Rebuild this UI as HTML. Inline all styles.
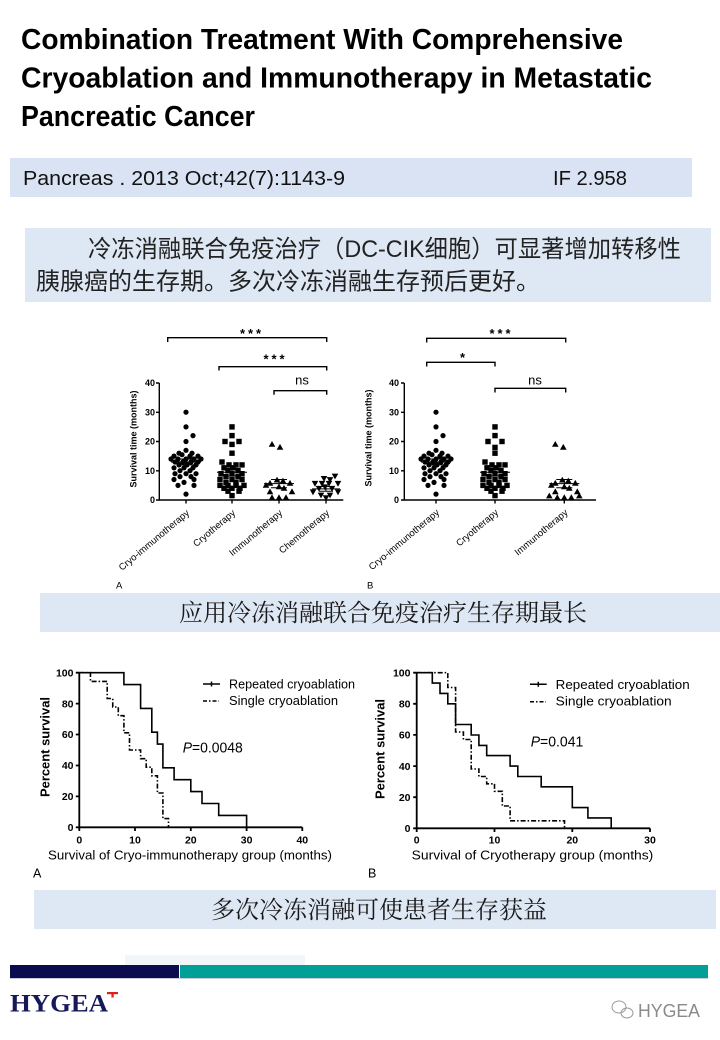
<!DOCTYPE html>
<html><head><meta charset="utf-8">
<style>
html,body{margin:0;padding:0;background:#fff;width:720px;height:1040px;overflow:hidden}
svg{display:block}
.s{font-family:"Liberation Sans",Arial,sans-serif}
</style></head>
<body>
<svg width="720" height="1040" viewBox="0 0 720 1040">
<rect x="0" y="0" width="720" height="1040" fill="#fff"/>

<!-- Title -->
<g class="s" font-weight="bold" font-size="29" fill="#000">
<text x="21" y="49" textLength="602" lengthAdjust="spacingAndGlyphs">Combination Treatment With Comprehensive</text>
<text x="21" y="87.5" textLength="631" lengthAdjust="spacingAndGlyphs">Cryoablation and Immunotherapy in Metastatic</text>
<text x="21" y="126" textLength="234" lengthAdjust="spacingAndGlyphs">Pancreatic Cancer</text>
</g>

<!-- Citation box -->
<rect x="10" y="158" width="682" height="39" fill="#dae3f3"/>
<g class="s" font-size="20" fill="#111">
<text x="23" y="185" textLength="322" lengthAdjust="spacingAndGlyphs">Pancreas . 2013 Oct;42(7):1143-9</text>
<text x="553" y="185" textLength="74" lengthAdjust="spacingAndGlyphs">IF 2.958</text>
</g>

<!-- Chinese box 1 -->
<rect x="25" y="228" width="686" height="74" fill="#dee8f4"/>
<g font-family="'Liberation Sans','Noto Sans CJK SC',sans-serif" font-size="24" fill="#222">
<text x="88" y="257" textLength="593" lengthAdjust="spacingAndGlyphs">冷冻消融联合免疫治疗（DC-CIK细胞）可显著增加转移性</text>
<text x="36" y="289.5" textLength="504" lengthAdjust="spacingAndGlyphs">胰腺癌的生存期。多次冷冻消融生存预后更好。</text>
</g>

<!-- ================= Scatter A ================= -->
<g class="s" fill="#000">
<!-- axes -->
<g stroke="#000" stroke-width="1.4" fill="none">
<path d="M159.3,383 V500 H343.3"/>
<path d="M156,383 H159.3 M156,412.3 H159.3 M156,441.5 H159.3 M156,470.8 H159.3 M156,500 H159.3"/>
<path d="M186,500 V503.5 M232,500 V503.5 M279,500 V503.5 M326,500 V503.5"/>
<!-- brackets -->
<path d="M167.7,342 V337.7 H326.7 V342"/>
<path d="M219,370.5 V366.7 H326.7 V370.5"/>
<path d="M274,394.7 V390.7 H326.7 V394.7"/>
</g>
<g font-size="9" font-weight="bold" text-anchor="end">
<text x="155" y="386">40</text><text x="155" y="415.3">30</text><text x="155" y="444.5">20</text><text x="155" y="473.8">10</text><text x="155" y="503">0</text>
</g>
<text transform="translate(136.5,439) rotate(-90)" text-anchor="middle" font-size="9" font-weight="bold">Survival time (months)</text>
<g font-size="13" font-weight="bold" text-anchor="middle">
<text x="250.5" y="338" textLength="21" lengthAdjust="spacing">***</text>
<text x="274" y="363.5" textLength="21" lengthAdjust="spacing">***</text>
</g>
<text x="302" y="384.5" font-size="13" text-anchor="middle">ns</text>
<g font-size="9.5" text-anchor="end">
<text transform="translate(190,514) rotate(-40)">Cryo-immunotherapy</text>
<text transform="translate(236,514) rotate(-40)">Cryotherapy</text>
<text transform="translate(283,514) rotate(-40)">Immunotherapy</text>
<text transform="translate(330,514) rotate(-40)">Chemotherapy</text>
</g>
<text x="116" y="588.5" font-size="9.5">A</text>

<!-- group1 circles -->
<g transform="translate(186,500)">
<circle cx="0" cy="-87.8" r="2.6"/><circle cx="0" cy="-73.1" r="2.6"/><circle cx="7" cy="-64.4" r="2.6"/><circle cx="0" cy="-58.5" r="2.6"/><circle cx="0" cy="-49.7" r="2.6"/><circle cx="-7" cy="-46.8" r="2.6"/><circle cx="6" cy="-46.8" r="2.6"/><circle cx="-12" cy="-43.9" r="2.6"/><circle cx="-4" cy="-45.3" r="2.6"/><circle cx="4" cy="-43.9" r="2.6"/><circle cx="12" cy="-43.9" r="2.6"/><circle cx="-15" cy="-41" r="2.6"/><circle cx="-8" cy="-41" r="2.6"/><circle cx="0" cy="-41" r="2.6"/><circle cx="8" cy="-41" r="2.6"/><circle cx="15" cy="-41" r="2.6"/><circle cx="-11" cy="-38" r="2.6"/><circle cx="-3" cy="-38" r="2.6"/><circle cx="5" cy="-38" r="2.6"/><circle cx="12" cy="-38" r="2.6"/><circle cx="-7" cy="-35.1" r="2.6"/><circle cx="1" cy="-35.1" r="2.6"/><circle cx="10" cy="-35.1" r="2.6"/><circle cx="-12" cy="-32.2" r="2.6"/><circle cx="-2" cy="-32.2" r="2.6"/><circle cx="7" cy="-32.2" r="2.6"/><circle cx="-6" cy="-29.3" r="2.6"/><circle cx="4" cy="-29.3" r="2.6"/><circle cx="-11" cy="-26.3" r="2.6"/><circle cx="0" cy="-26.3" r="2.6"/><circle cx="10" cy="-26.3" r="2.6"/><circle cx="-6" cy="-23.4" r="2.6"/><circle cx="5" cy="-23.4" r="2.6"/><circle cx="-12" cy="-20.5" r="2.6"/><circle cx="8" cy="-20.5" r="2.6"/><circle cx="-2" cy="-17.6" r="2.6"/><circle cx="-8" cy="-14.6" r="2.6"/><circle cx="8" cy="-14.6" r="2.6"/><circle cx="0" cy="-5.9" r="2.6"/>
<path d="M-15,-38 H15 M-8,-35.1 H8 M-8,-41 H8 M0,-35.1 V-41" stroke="#000" stroke-width="1" fill="none"/>
</g>
<!-- group2 squares -->
<g transform="translate(232,500)">
<rect x="-2.7" y="-75.8" width="5.4" height="5.4"/><rect x="-2.7" y="-67.1" width="5.4" height="5.4"/><rect x="-9.7" y="-61.2" width="5.4" height="5.4"/><rect x="4.3" y="-61.2" width="5.4" height="5.4"/><rect x="-2.7" y="-58.3" width="5.4" height="5.4"/><rect x="-2.7" y="-49.5" width="5.4" height="5.4"/><rect x="-12.7" y="-40.7" width="5.4" height="5.4"/><rect x="-5.7" y="-37.8" width="5.4" height="5.4"/><rect x="1.3" y="-37.8" width="5.4" height="5.4"/><rect x="7.3" y="-37.8" width="5.4" height="5.4"/><rect x="-10.7" y="-34.9" width="5.4" height="5.4"/><rect x="-1.7" y="-34.9" width="5.4" height="5.4"/><rect x="-6.7" y="-32" width="5.4" height="5.4"/><rect x="3.3" y="-32" width="5.4" height="5.4"/><rect x="-13.7" y="-29" width="5.4" height="5.4"/><rect x="-2.7" y="-29" width="5.4" height="5.4"/><rect x="7.3" y="-29" width="5.4" height="5.4"/><rect x="-8.7" y="-26.1" width="5.4" height="5.4"/><rect x="3.3" y="-26.1" width="5.4" height="5.4"/><rect x="-14.7" y="-23.2" width="5.4" height="5.4"/><rect x="-2.7" y="-23.2" width="5.4" height="5.4"/><rect x="7.3" y="-23.2" width="5.4" height="5.4"/><rect x="-8.7" y="-20.3" width="5.4" height="5.4"/><rect x="1.3" y="-20.3" width="5.4" height="5.4"/><rect x="-14.7" y="-17.3" width="5.4" height="5.4"/><rect x="-6.7" y="-17.3" width="5.4" height="5.4"/><rect x="1.3" y="-17.3" width="5.4" height="5.4"/><rect x="9.3" y="-17.3" width="5.4" height="5.4"/><rect x="-10.7" y="-14.4" width="5.4" height="5.4"/><rect x="-2.7" y="-14.4" width="5.4" height="5.4"/><rect x="5.3" y="-14.4" width="5.4" height="5.4"/><rect x="-6.7" y="-11.5" width="5.4" height="5.4"/><rect x="4.3" y="-11.5" width="5.4" height="5.4"/><rect x="-2.7" y="-7.1" width="5.4" height="5.4"/>
<path d="M-15,-27.8 H15 M-8,-24 H8 M-8,-31.6 H8 M0,-24 V-31.6" stroke="#000" stroke-width="1" fill="none"/>
</g>
<!-- group3 triangles -->
<g transform="translate(279,500)">
<path transform="translate(-7,-55.6)" d="M0,-3.4L3.3,2.4L-3.3,2.4Z"/><path transform="translate(1,-52.7)" d="M0,-3.4L3.3,2.4L-3.3,2.4Z"/><path transform="translate(-9,-16.7)" d="M0,-3.4L3.3,2.4L-3.3,2.4Z"/><path transform="translate(-2,-19.9)" d="M0,-3.4L3.3,2.4L-3.3,2.4Z"/><path transform="translate(4,-19)" d="M0,-3.4L3.3,2.4L-3.3,2.4Z"/><path transform="translate(11,-16.7)" d="M0,-3.4L3.3,2.4L-3.3,2.4Z"/><path transform="translate(-13,-14.6)" d="M0,-3.4L3.3,2.4L-3.3,2.4Z"/><path transform="translate(0,-13.2)" d="M0,-3.4L3.3,2.4L-3.3,2.4Z"/><path transform="translate(-9,-8.2)" d="M0,-3.4L3.3,2.4L-3.3,2.4Z"/><path transform="translate(13,-8.2)" d="M0,-3.4L3.3,2.4L-3.3,2.4Z"/><path transform="translate(-7,-2.3)" d="M0,-3.4L3.3,2.4L-3.3,2.4Z"/><path transform="translate(0,-2.3)" d="M0,-3.4L3.3,2.4L-3.3,2.4Z"/><path transform="translate(7,-2.3)" d="M0,-3.4L3.3,2.4L-3.3,2.4Z"/><path transform="translate(5,-11.7)" d="M0,-3.4L3.3,2.4L-3.3,2.4Z"/>
<path d="M-15,-16.4 H15 M-8,-12.3 H8 M-8,-20.5 H8 M0,-12.3 V-20.5" stroke="#000" stroke-width="1" fill="none"/>
</g>
<!-- group4 inverted triangles -->
<g transform="translate(326,500)">
<path transform="translate(9,-24)" d="M-3.3,-2.4L3.3,-2.4L0,3.4Z"/><path transform="translate(-2,-21.6)" d="M-3.3,-2.4L3.3,-2.4L0,3.4Z"/><path transform="translate(4,-20.5)" d="M-3.3,-2.4L3.3,-2.4L0,3.4Z"/><path transform="translate(-11,-16.7)" d="M-3.3,-2.4L3.3,-2.4L0,3.4Z"/><path transform="translate(-4,-16.7)" d="M-3.3,-2.4L3.3,-2.4L0,3.4Z"/><path transform="translate(3,-16.7)" d="M-3.3,-2.4L3.3,-2.4L0,3.4Z"/><path transform="translate(12,-16.7)" d="M-3.3,-2.4L3.3,-2.4L0,3.4Z"/><path transform="translate(-7,-11.7)" d="M-3.3,-2.4L3.3,-2.4L0,3.4Z"/><path transform="translate(6,-11.7)" d="M-3.3,-2.4L3.3,-2.4L0,3.4Z"/><path transform="translate(-13,-8.2)" d="M-3.3,-2.4L3.3,-2.4L0,3.4Z"/><path transform="translate(12,-8.2)" d="M-3.3,-2.4L3.3,-2.4L0,3.4Z"/><path transform="translate(-5,-5)" d="M-3.3,-2.4L3.3,-2.4L0,3.4Z"/><path transform="translate(4,-5)" d="M-3.3,-2.4L3.3,-2.4L0,3.4Z"/><path transform="translate(0,-2.3)" d="M-3.3,-2.4L3.3,-2.4L0,3.4Z"/><path transform="translate(-1,-13.2)" d="M-3.3,-2.4L3.3,-2.4L0,3.4Z"/>
<path d="M-14,-11.1 H14 M-7,-8.8 H7 M-7,-13.5 H7 M0,-8.8 V-13.5" stroke="#000" stroke-width="1" fill="none"/>
</g>
</g>

<!-- ================= Scatter B ================= -->
<g class="s" fill="#000">
<g stroke="#000" stroke-width="1.4" fill="none">
<path d="M404.3,383 V500 H596"/>
<path d="M401,383 H404.3 M401,412.3 H404.3 M401,441.5 H404.3 M401,470.8 H404.3 M401,500 H404.3"/>
<path d="M436,500 V503.5 M495,500 V503.5 M564.3,500 V503.5"/>
<path d="M426.7,342.5 V338.3 H565.7 V342.5"/>
<path d="M426.7,366.5 V362.3 H495 V366.5"/>
<path d="M495,392.5 V388.3 H565.7 V392.5"/>
</g>
<g font-size="9" font-weight="bold" text-anchor="end">
<text x="399" y="386">40</text><text x="399" y="415.3">30</text><text x="399" y="444.5">20</text><text x="399" y="473.8">10</text><text x="399" y="503">0</text>
</g>
<text transform="translate(371.5,438) rotate(-90)" text-anchor="middle" font-size="9" font-weight="bold">Survival time (months)</text>
<g font-size="13" font-weight="bold" text-anchor="middle">
<text x="500" y="338" textLength="21" lengthAdjust="spacing">***</text>
<text x="462.5" y="362">*</text>
</g>
<text x="535" y="384.5" font-size="13" text-anchor="middle">ns</text>
<g font-size="9.5" text-anchor="end">
<text transform="translate(440,513.5) rotate(-40)">Cryo-immunotherapy</text>
<text transform="translate(499,513.5) rotate(-40)">Cryotherapy</text>
<text transform="translate(568.5,513.5) rotate(-40)">Immunotherapy</text>
</g>
<text x="367" y="588.5" font-size="9.5">B</text>

<g transform="translate(436,500)">
<circle cx="0" cy="-87.8" r="2.6"/><circle cx="0" cy="-73.1" r="2.6"/><circle cx="7" cy="-64.4" r="2.6"/><circle cx="0" cy="-58.5" r="2.6"/><circle cx="0" cy="-49.7" r="2.6"/><circle cx="-7" cy="-46.8" r="2.6"/><circle cx="6" cy="-46.8" r="2.6"/><circle cx="-12" cy="-43.9" r="2.6"/><circle cx="-4" cy="-45.3" r="2.6"/><circle cx="4" cy="-43.9" r="2.6"/><circle cx="12" cy="-43.9" r="2.6"/><circle cx="-15" cy="-41" r="2.6"/><circle cx="-8" cy="-41" r="2.6"/><circle cx="0" cy="-41" r="2.6"/><circle cx="8" cy="-41" r="2.6"/><circle cx="15" cy="-41" r="2.6"/><circle cx="-11" cy="-38" r="2.6"/><circle cx="-3" cy="-38" r="2.6"/><circle cx="5" cy="-38" r="2.6"/><circle cx="12" cy="-38" r="2.6"/><circle cx="-7" cy="-35.1" r="2.6"/><circle cx="1" cy="-35.1" r="2.6"/><circle cx="10" cy="-35.1" r="2.6"/><circle cx="-12" cy="-32.2" r="2.6"/><circle cx="-2" cy="-32.2" r="2.6"/><circle cx="7" cy="-32.2" r="2.6"/><circle cx="-6" cy="-29.3" r="2.6"/><circle cx="4" cy="-29.3" r="2.6"/><circle cx="-11" cy="-26.3" r="2.6"/><circle cx="0" cy="-26.3" r="2.6"/><circle cx="10" cy="-26.3" r="2.6"/><circle cx="-6" cy="-23.4" r="2.6"/><circle cx="5" cy="-23.4" r="2.6"/><circle cx="-12" cy="-20.5" r="2.6"/><circle cx="8" cy="-20.5" r="2.6"/><circle cx="-2" cy="-17.6" r="2.6"/><circle cx="-8" cy="-14.6" r="2.6"/><circle cx="8" cy="-14.6" r="2.6"/><circle cx="0" cy="-5.9" r="2.6"/>
<path d="M-15,-38 H15 M-8,-35.1 H8 M-8,-41 H8 M0,-35.1 V-41" stroke="#000" stroke-width="1" fill="none"/>
</g>
<g transform="translate(495,500)">
<rect x="-2.7" y="-75.8" width="5.4" height="5.4"/><rect x="-2.7" y="-67.1" width="5.4" height="5.4"/><rect x="-9.7" y="-61.2" width="5.4" height="5.4"/><rect x="4.3" y="-61.2" width="5.4" height="5.4"/><rect x="-2.7" y="-55.3" width="5.4" height="5.4"/><rect x="-2.7" y="-49.5" width="5.4" height="5.4"/><rect x="-12.7" y="-40.7" width="5.4" height="5.4"/><rect x="-5.7" y="-37.8" width="5.4" height="5.4"/><rect x="1.3" y="-37.8" width="5.4" height="5.4"/><rect x="7.3" y="-37.8" width="5.4" height="5.4"/><rect x="-10.7" y="-34.9" width="5.4" height="5.4"/><rect x="-1.7" y="-34.9" width="5.4" height="5.4"/><rect x="-6.7" y="-32" width="5.4" height="5.4"/><rect x="3.3" y="-32" width="5.4" height="5.4"/><rect x="-13.7" y="-29" width="5.4" height="5.4"/><rect x="-2.7" y="-29" width="5.4" height="5.4"/><rect x="7.3" y="-29" width="5.4" height="5.4"/><rect x="-8.7" y="-26.1" width="5.4" height="5.4"/><rect x="3.3" y="-26.1" width="5.4" height="5.4"/><rect x="-14.7" y="-23.2" width="5.4" height="5.4"/><rect x="-2.7" y="-23.2" width="5.4" height="5.4"/><rect x="7.3" y="-23.2" width="5.4" height="5.4"/><rect x="-8.7" y="-20.3" width="5.4" height="5.4"/><rect x="1.3" y="-20.3" width="5.4" height="5.4"/><rect x="-14.7" y="-17.3" width="5.4" height="5.4"/><rect x="-6.7" y="-17.3" width="5.4" height="5.4"/><rect x="1.3" y="-17.3" width="5.4" height="5.4"/><rect x="9.3" y="-17.3" width="5.4" height="5.4"/><rect x="-10.7" y="-14.4" width="5.4" height="5.4"/><rect x="-2.7" y="-14.4" width="5.4" height="5.4"/><rect x="5.3" y="-14.4" width="5.4" height="5.4"/><rect x="-6.7" y="-11.5" width="5.4" height="5.4"/><rect x="4.3" y="-11.5" width="5.4" height="5.4"/><rect x="-2.7" y="-7.1" width="5.4" height="5.4"/>
<path d="M-15,-27.8 H15 M-8,-24 H8 M-8,-31.6 H8 M0,-24 V-31.6" stroke="#000" stroke-width="1" fill="none"/>
</g>
<g transform="translate(564.3,500)">
<path transform="translate(-9,-55.6)" d="M0,-3.4L3.3,2.4L-3.3,2.4Z"/><path transform="translate(-1,-52.7)" d="M0,-3.4L3.3,2.4L-3.3,2.4Z"/><path transform="translate(-9,-16.7)" d="M0,-3.4L3.3,2.4L-3.3,2.4Z"/><path transform="translate(-2,-19.9)" d="M0,-3.4L3.3,2.4L-3.3,2.4Z"/><path transform="translate(4,-19)" d="M0,-3.4L3.3,2.4L-3.3,2.4Z"/><path transform="translate(11,-16.7)" d="M0,-3.4L3.3,2.4L-3.3,2.4Z"/><path transform="translate(-13,-14.6)" d="M0,-3.4L3.3,2.4L-3.3,2.4Z"/><path transform="translate(0,-13.2)" d="M0,-3.4L3.3,2.4L-3.3,2.4Z"/><path transform="translate(-9,-8.2)" d="M0,-3.4L3.3,2.4L-3.3,2.4Z"/><path transform="translate(13,-8.2)" d="M0,-3.4L3.3,2.4L-3.3,2.4Z"/><path transform="translate(-15,-4)" d="M0,-3.4L3.3,2.4L-3.3,2.4Z"/><path transform="translate(-7,-2.3)" d="M0,-3.4L3.3,2.4L-3.3,2.4Z"/><path transform="translate(0,-2.3)" d="M0,-3.4L3.3,2.4L-3.3,2.4Z"/><path transform="translate(7,-2.3)" d="M0,-3.4L3.3,2.4L-3.3,2.4Z"/><path transform="translate(15,-4)" d="M0,-3.4L3.3,2.4L-3.3,2.4Z"/><path transform="translate(5,-11.7)" d="M0,-3.4L3.3,2.4L-3.3,2.4Z"/>
<path d="M-15,-16.4 H15 M-8,-12.3 H8 M-8,-20.5 H8 M0,-12.3 V-20.5" stroke="#000" stroke-width="1" fill="none"/>
</g>
</g>

<!-- Box 2 -->
<rect x="40" y="593" width="680" height="39" fill="#dee8f4"/>
<text x="179" y="621" font-family="'Liberation Serif','Noto Serif CJK SC',serif" font-size="24" fill="#1a1a1a" textLength="408" lengthAdjust="spacingAndGlyphs">应用冷冻消融联合免疫治疗生存期最长</text>

<!-- ================= KM A ================= -->
<g class="s" fill="#000">
<g stroke="#000" stroke-width="1.8" fill="none">
<path d="M79.3,672.7 V827.3 H302.3"/>
<path d="M75.8,672.7 H79.3 M75.8,703.6 H79.3 M75.8,734.5 H79.3 M75.8,765.5 H79.3 M75.8,796.4 H79.3 M75.8,827.3 H79.3"/>
<path d="M79.3,827.3 V831 M135,827.3 V831 M190.8,827.3 V831 M246.6,827.3 V831 M302.3,827.3 V831"/>
</g>
<path d="M79.3,672.7 H90.45 V681.4 H107.2 V698.5 H112.75 V707 H118.3 V715.7 H123.9 V732.8 H129.5 V750 H140.6 V758.7 H146.2 V767.2 H151.8 V775.8 H157.4 V793 H162.9 V818.6 H168.5 V827.3" stroke="#000" stroke-width="1.6" fill="none" stroke-dasharray="5,2,1.5,2"/>
<path d="M79.3,672.7 H123.9 V684.6 H140.6 V708.4 H151.8 V732.2 H157.4 V744.1 H162.9 V767.8 H174.1 V779.7 H190.8 V791.6 H202 V803.5 H218.7 V815.4 H246.6 V827.3" stroke="#000" stroke-width="1.6" fill="none"/>
<g font-size="10.5" font-weight="bold" text-anchor="end">
<text x="73.5" y="676.4">100</text><text x="73.5" y="707.3">80</text><text x="73.5" y="738.2">60</text><text x="73.5" y="769.2">40</text><text x="73.5" y="800.1">20</text><text x="73.5" y="831">0</text>
</g>
<g font-size="10.5" font-weight="bold" text-anchor="middle">
<text x="79.3" y="843.5">0</text><text x="135" y="843.5">10</text><text x="190.8" y="843.5">20</text><text x="246.6" y="843.5">30</text><text x="302.3" y="843.5">40</text>
</g>
<text transform="translate(49.5,747) rotate(-90)" text-anchor="middle" font-size="12.5" font-weight="bold" textLength="100" lengthAdjust="spacingAndGlyphs">Percent survival</text>
<text x="48" y="859.5" font-size="12.5" textLength="284" lengthAdjust="spacingAndGlyphs">Survival of Cryo-immunotherapy group (months)</text>
<text x="33" y="877.5" font-size="12.5">A</text>
<!-- legend -->
<path d="M203,684 H220 M211.5,681.5 V686.5" stroke="#000" stroke-width="1.5" fill="none"/>
<path d="M203,701 H219" stroke="#000" stroke-width="1.5" fill="none" stroke-dasharray="4,2,1.5,2"/>
<text x="229" y="688.5" font-size="12.5" textLength="126" lengthAdjust="spacingAndGlyphs">Repeated cryoablation</text>
<text x="229" y="705" font-size="12.5" textLength="109" lengthAdjust="spacingAndGlyphs">Single cryoablation</text>
<text x="182.7" y="752.5" font-size="14.5" textLength="60" lengthAdjust="spacingAndGlyphs"><tspan font-style="italic">P</tspan>=0.0048</text>
</g>

<!-- ================= KM B ================= -->
<g class="s" fill="#000">
<g stroke="#000" stroke-width="1.8" fill="none">
<path d="M416.7,672.7 V828.3 H650"/>
<path d="M413.2,672.7 H416.7 M413.2,703.8 H416.7 M413.2,734.9 H416.7 M413.2,766.1 H416.7 M413.2,797.2 H416.7 M413.2,828.3 H416.7"/>
<path d="M416.7,828.3 V832 M494.5,828.3 V832 M572.3,828.3 V832 M650,828.3 V832"/>
</g>
<path d="M416.7,672.7 H447.8 V687.5 H455.6 V732 H463.4 V739.5 H471.2 V769 H478.9 V776.5 H486.7 V783.8 H494.5 V791.3 H502.3 V806 H510.1 V820.8 H564.5 V828.3" stroke="#000" stroke-width="1.6" fill="none" stroke-dasharray="5,2,1.5,2"/>
<path d="M416.7,672.7 H432.3 V683.1 H440 V693.4 H447.8 V703.8 H455.6 V724.5 H471.2 V735 H478.9 V745.4 H486.7 V755.6 H510.1 V766.1 H517.8 V776.5 H541.2 V786.8 H572.3 V807.6 H587.9 V817.9 H611.2 V828.3" stroke="#000" stroke-width="1.6" fill="none"/>
<g font-size="10.5" font-weight="bold" text-anchor="end">
<text x="410.5" y="676.4">100</text><text x="410.5" y="707.5">80</text><text x="410.5" y="738.6">60</text><text x="410.5" y="769.8">40</text><text x="410.5" y="800.9">20</text><text x="410.5" y="832">0</text>
</g>
<g font-size="10.5" font-weight="bold" text-anchor="middle">
<text x="416.7" y="843.5">0</text><text x="494.5" y="843.5">10</text><text x="572.3" y="843.5">20</text><text x="650" y="843.5">30</text>
</g>
<text transform="translate(384.5,749) rotate(-90)" text-anchor="middle" font-size="12.5" font-weight="bold" textLength="100" lengthAdjust="spacingAndGlyphs">Percent survival</text>
<text x="411.7" y="859.5" font-size="12.5" textLength="241.6" lengthAdjust="spacingAndGlyphs">Survival of Cryotherapy group (months)</text>
<text x="368" y="877.5" font-size="12.5">B</text>
<path d="M530,684.3 H546.7 M538.3,681.8 V686.8" stroke="#000" stroke-width="1.5" fill="none"/>
<path d="M530,701.7 H546" stroke="#000" stroke-width="1.5" fill="none" stroke-dasharray="4,2,1.5,2"/>
<text x="555.7" y="688.8" font-size="12.5" textLength="134" lengthAdjust="spacingAndGlyphs">Repeated cryoablation</text>
<text x="555.7" y="705.5" font-size="12.5" textLength="116" lengthAdjust="spacingAndGlyphs">Single cryoablation</text>
<text x="530.7" y="746.5" font-size="14.5" textLength="52.6" lengthAdjust="spacingAndGlyphs"><tspan font-style="italic">P</tspan>=0.041</text>
</g>

<!-- Box 3 -->
<rect x="34" y="890" width="682" height="39" fill="#dee8f4"/>
<text x="211" y="918" font-family="'Liberation Serif','Noto Serif CJK SC',serif" font-size="24" fill="#1a1a1a" textLength="336" lengthAdjust="spacingAndGlyphs">多次冷冻消融可使患者生存获益</text>

<!-- Footer bar -->
<rect x="125" y="955" width="180" height="10" fill="#eef2f7" opacity="0.7"/>
<rect x="10" y="965" width="169" height="13" fill="#0b0b50"/>
<rect x="180" y="965" width="528" height="13" fill="#00a096"/>
<rect x="10" y="978" width="698" height="1" fill="#c9ccd8"/>

<!-- HYGEA logo -->
<text x="10" y="1011.7" font-family="'Liberation Serif',serif" font-weight="bold" font-size="25" fill="#16185a" textLength="98" lengthAdjust="spacingAndGlyphs">HYGEA</text>
<rect x="107" y="992" width="11" height="2.2" fill="#e0201c"/>
<rect x="111.4" y="992" width="2.3" height="5.5" fill="#e0201c"/>

<!-- watermark -->
<g fill="none" stroke="#9a9a9a" stroke-width="1">
<ellipse cx="619" cy="1007" rx="7" ry="6"/>
<ellipse cx="627" cy="1013" rx="6" ry="5"/>
</g>
<text x="638" y="1017" font-family="'Liberation Sans',sans-serif" font-size="18" fill="#8a8a8a" textLength="62" lengthAdjust="spacingAndGlyphs">HYGEA</text>
</svg>
</body></html>
